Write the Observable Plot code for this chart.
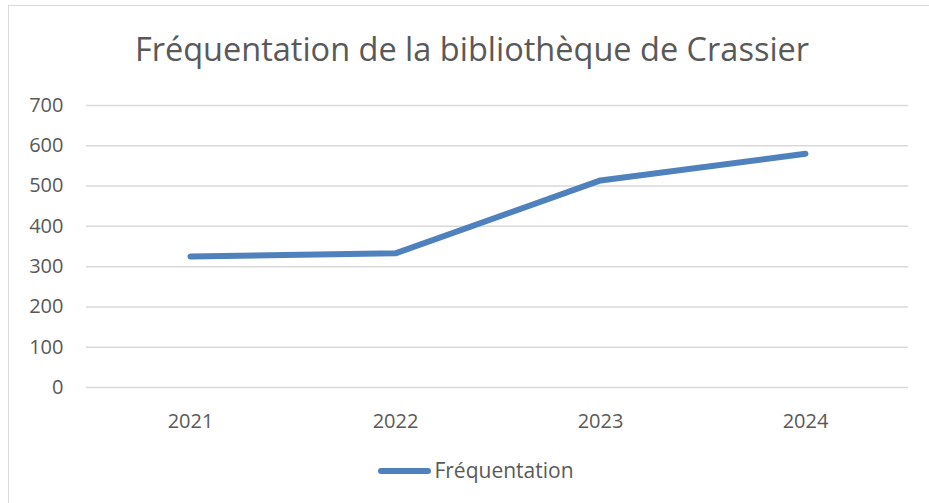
<!DOCTYPE html>
<html>
<head>
<meta charset="utf-8">
<script src="https://cdn.jsdelivr.net/npm/d3@7"></script>
<script src="https://cdn.jsdelivr.net/npm/@observablehq/plot@0.6"></script>
<style>
  html, body { margin: 0; padding: 0; background: #fff; overflow: hidden; }
  #wrap { position: relative; width: 929px; height: 503px; font-family: "Open Sans", sans-serif; }
  #frame { position: absolute; left: 8px; top: 5px; width: 940px; height: 520px;
           border-top: 1.5px solid #d9d9d9; border-left: 1.5px solid #d9d9d9; }
  #title { position: absolute; left: 9px; width: 926px; top: 29px; text-align: center;
           font-size: 32.5px; color: #595959; line-height: 40px; }
  #plot { position: absolute; left: 0; top: 80px; }
  #legend { position: absolute; left: 0; width: 952px; top: 456px; text-align: center;
            font-size: 21px; color: #595959; line-height: 28px; }
  #legend .sw { display: inline-block; width: 53px; height: 6px; border-radius: 3px;
                background: #4f81bd; vertical-align: middle; margin-right: 3px; position: relative; top: -1px; }
</style>
</head>
<body>
<div id="wrap">
  <div id="frame"></div>
  <div id="title">Fréquentation de la bibliothèque de Crassier</div>
  <div id="plot"></div>
  <div id="legend"><span class="sw"></span>Fréquentation</div>
</div>
<script>
const years = ["2021", "2022", "2023", "2024"];
const frequentation = [325, 333, 514, 580];
const yTicks = [0, 100, 200, 300, 400, 500, 600, 700];

const data = years.map((y, i) => ({ year: y, value: frequentation[i] }));

const chart = Plot.plot({
  width: 929,
  height: 360,
  marginLeft: 86,
  marginRight: 21,
  marginTop: 25,
  marginBottom: 53,
  style: { fontFamily: "Open Sans, sans-serif", fontSize: "20px", color: "#595959", background: "transparent" },
  x: { type: "point", domain: years, padding: 0.5, label: null },
  y: { domain: [0, 700], label: null },
  marks: [
    Plot.gridY(yTicks, { stroke: "#d9d9d9", strokeOpacity: 1, strokeWidth: 1.5 }),
    Plot.axisY(yTicks, { tickSize: 0, tickPadding: 23, label: null }),
    Plot.axisX(years, { tickSize: 0, tickPadding: 26, label: null }),
    Plot.line(data, { x: "year", y: "value", stroke: "#4f81bd", strokeWidth: 6, strokeLinecap: "round", strokeLinejoin: "round" })
  ]
});
document.getElementById("plot").appendChild(chart);
</script>
</body>
</html>
